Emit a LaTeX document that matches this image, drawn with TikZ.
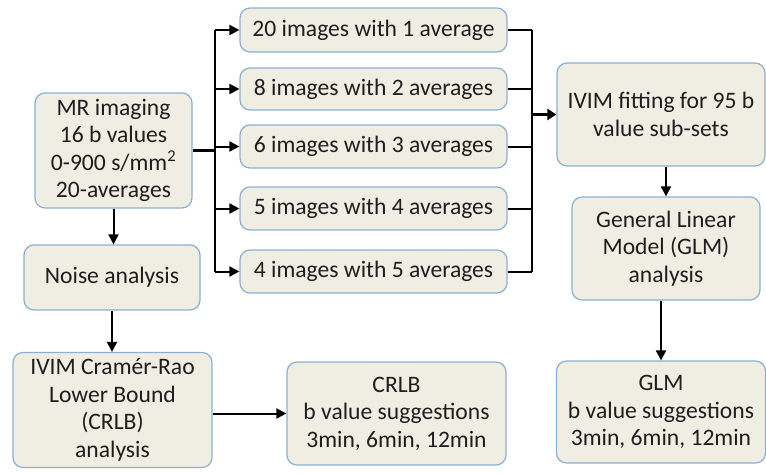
\documentclass[tikz,border=0pt]{standalone}
\usepackage{fontspec}
\setmainfont{Carlito}
\usetikzlibrary{arrows.meta}
\definecolor{boxfill}{RGB}{240,238,227}
\definecolor{boxedge}{RGB}{140,175,212}
\definecolor{txt}{RGB}{30,30,30}
\begin{document}
\begin{tikzpicture}[x=1pt,y=-1pt,
  box/.style={draw=boxedge, fill=boxfill, line width=1.2pt, rounded corners=10pt,
    align=center, text=txt, inner sep=0pt,
    font=\fontsize{23.6}{27.5}\selectfont},
  conn/.style={line width=2pt, draw=black},
  arr/.style={conn, -{Triangle[length=10pt,width=10pt]}},
  thickarr/.style={line width=3pt, -{Triangle[length=9pt,width=11pt]}}]
\useasboundingbox (0,0) rectangle (766,474);

\node[box, minimum width=157pt, minimum height=115pt] (mr) at (113.5,150.5)
  {MR imaging\\16 b values\\0-900 s/mm\textsuperscript{2}\\20-averages};
\node[box, minimum width=267pt, minimum height=44pt] (b1) at (373.5,30) {20 images with 1 average};
\node[box, minimum width=267pt, minimum height=42pt] (b2) at (373.5,89) {8 images with 2 averages};
\node[box, minimum width=267pt, minimum height=43pt] (b3) at (373.5,146.5) {6 images with 3 averages};
\node[box, minimum width=267pt, minimum height=43pt] (b4) at (373.5,208.5) {5 images with 4 averages};
\node[box, minimum width=267pt, minimum height=43pt] (b5) at (373.5,271.5) {4 images with 5 averages};
\node[box, minimum width=208pt, minimum height=103pt] (ivim) at (661,114.5)
  {IVIM fitting for 95 b\\value sub-sets};
\node[box, minimum width=188pt, minimum height=103pt] (glmm) at (666,248.5)
  {General Linear\\Model (GLM)\\analysis};
\node[box, minimum width=209pt, minimum height=102pt] (glms) at (661,412)
  {GLM\\b value suggestions\\3min, 6min, 12min};
\node[box, minimum width=176pt, minimum height=65pt] (noise) at (112,277.5) {Noise analysis};
\node[box, minimum width=199pt, minimum height=115pt] (crlba) at (112.5,410)
  {IVIM Cramér-Rao\\Lower Bound\\(CRLB)\\analysis};
\node[box, minimum width=219pt, minimum height=103pt] (crlbs) at (396.5,413.5)
  {CRLB\\b value suggestions\\3min, 6min, 12min};

\coordinate (split) at (215,150);
\coordinate (join) at (532,114.5);

% left branch
\draw[line width=3pt] (mr.east |- split) -- (split);
\draw[line width=2.5pt] (split |- b1.west) -- (split |- b5.west);
\foreach \b in {b1,b2,b3,b4,b5}
  \draw[arr] (split |- \b.west) -- (\b.west);

% right collector
\foreach \b in {b1,b2,b3,b4,b5}
  \draw[conn] (\b.east) -- (join |- \b.east);
\draw[line width=2.5pt] (join |- b1.east) -- (join |- b5.east);
\draw[thickarr] (join) -- (ivim.west);

\draw[arr] (ivim.south -| glmm.north) -- (glmm.north);
\draw[arr] (glmm.south -| glms.north) -- (glms.north);

\draw[arr] (mr.south) -- (mr.south |- noise.north);
\draw[arr] (noise.south) -- (noise.south |- crlba.north);
\draw[arr] (crlba.east |- crlbs.west) -- (crlbs.west);
\end{tikzpicture}
\end{document}
